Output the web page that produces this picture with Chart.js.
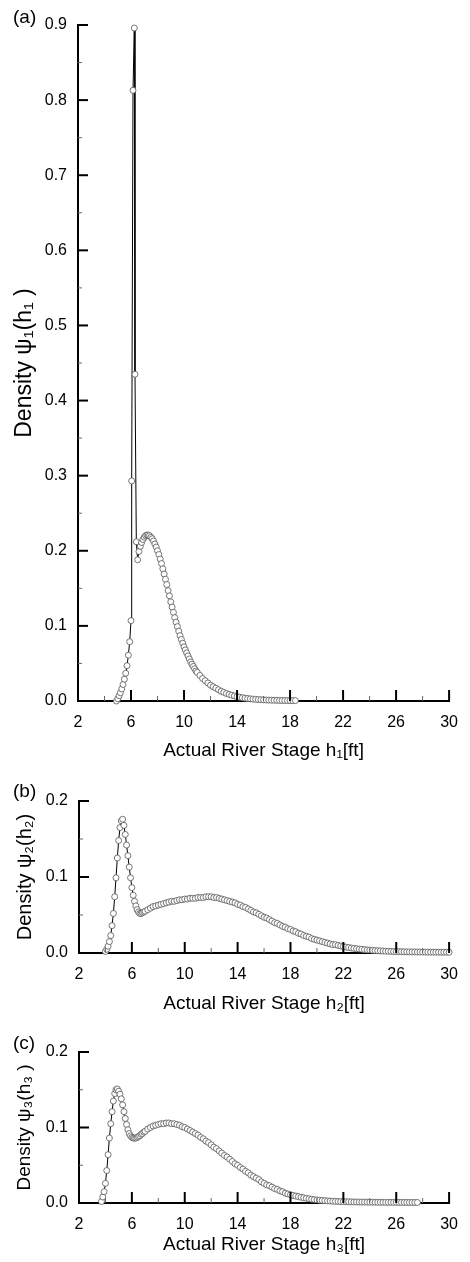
<!DOCTYPE html>
<html>
<head>
<meta charset="utf-8">
<script src="https://cdn.jsdelivr.net/npm/chart.js@4.4.1/dist/chart.umd.min.js"></script>
<style>
  body { margin: 0; background: #fff; }
  .panel { position: absolute; left: 0; width: 470px; }
</style>
</head>
<body>
<div class="panel" style="top:0;height:775px"><canvas id="chartA"></canvas></div>
<div class="panel" style="top:780px;height:240px"><canvas id="chartB"></canvas></div>
<div class="panel" style="top:1030px;height:232px"><canvas id="chartC"></canvas></div>
<script>
// tick values
const stageTicks = [2, 6, 10, 14, 18, 22, 26, 30]
const densityTicksA = [0, 0.1, 0.2, 0.3, 0.4, 0.5, 0.6, 0.7, 0.8, 0.9]
const densityTicksBC = [0, 0.1, 0.2]

// (a) h1
const stageA = [4.9, 5.0, 5.1, 5.2, 5.3, 5.4, 5.5, 5.6, 5.7, 5.8, 5.9, 6.0, 6.05, 6.15, 6.25, 6.3, 6.4,
  6.5, 6.6, 6.7, 6.8, 6.9, 7.0, 7.1, 7.2, 7.3, 7.4, 7.5, 7.6, 7.7, 7.8, 7.9, 8.0, 8.1, 8.2, 8.3, 8.4,
  8.5, 8.6, 8.7, 8.8, 8.9, 9.0, 9.1, 9.2, 9.3, 9.4, 9.5, 9.6, 9.7, 9.8, 9.9, 10.0, 10.1, 10.2, 10.3,
  10.4, 10.5, 10.6, 10.7, 10.8, 10.9, 11.0, 11.2, 11.4, 11.6, 11.8, 12.0, 12.2, 12.4, 12.6, 12.8, 13.0,
  13.2, 13.4, 13.6, 13.8, 14.0, 14.2, 14.4, 14.6, 14.8, 15.0, 15.2, 15.4, 15.6, 15.8, 16.0, 16.2, 16.4,
  16.6, 16.8, 17.0, 17.2, 17.4, 17.6, 17.8, 18.0, 18.2, 18.4]
const densityA = [0, 0.003, 0.007, 0.011, 0.016, 0.022, 0.029, 0.037, 0.047, 0.061, 0.079, 0.107, 0.293, 0.813, 0.896, 0.435, 0.212,
  0.188, 0.199, 0.206, 0.211, 0.215, 0.218, 0.220, 0.221, 0.221, 0.220, 0.218, 0.216, 0.213, 0.209, 0.205, 0.200, 0.195, 0.189, 0.183, 0.176,
  0.169, 0.162, 0.155, 0.147, 0.140, 0.132, 0.125, 0.118, 0.111, 0.105, 0.099, 0.093, 0.087, 0.082, 0.077, 0.072, 0.068, 0.064, 0.060,
  0.056, 0.052, 0.049, 0.046, 0.043, 0.040, 0.038, 0.034, 0.030, 0.027, 0.024, 0.021, 0.019, 0.017, 0.015, 0.013, 0.0115,
  0.0100, 0.0088, 0.0077, 0.0067, 0.0058, 0.0050, 0.0044, 0.0038, 0.0033, 0.0029, 0.0025, 0.0022, 0.0019, 0.0017, 0.0015, 0.0013, 0.0012,
  0.0011, 0.0010, 0.0009, 0.0008, 0.0007, 0.0007, 0.0006, 0.0006, 0.0005, 0.0005]

// (b) h2
const stageB = [4.0, 4.1, 4.2, 4.3, 4.4, 4.5, 4.6, 4.7, 4.8, 4.9, 5.0, 5.1, 5.2, 5.3, 5.4, 5.5, 5.6, 5.7, 5.8, 5.9,
  6.0, 6.1, 6.2, 6.3, 6.4, 6.5, 6.6, 6.7, 6.8, 6.9, 7.0, 7.2, 7.4, 7.6, 7.8, 8.0, 8.2, 8.4, 8.6, 8.8,
  9.0, 9.2, 9.4, 9.6, 9.8, 10.0, 10.2, 10.4, 10.6, 10.8, 11.0, 11.2, 11.4, 11.6, 11.8, 12.0, 12.2, 12.4, 12.6, 12.8,
  13.0, 13.2, 13.4, 13.6, 13.8, 14.0, 14.2, 14.4, 14.6, 14.8, 15.0, 15.2, 15.4, 15.6, 15.8, 16.0, 16.2, 16.4, 16.6, 16.8,
  17.0, 17.2, 17.4, 17.6, 17.8, 18.0, 18.2, 18.4, 18.6, 18.8, 19.0, 19.2, 19.4, 19.6, 19.8, 20.0, 20.2, 20.4, 20.6, 20.8,
  21.0, 21.2, 21.4, 21.6, 21.8, 22.0, 22.2, 22.4, 22.6, 22.8, 23.0, 23.2, 23.4, 23.6, 23.8, 24.0, 24.2, 24.4, 24.6, 24.8,
  25.0, 25.2, 25.4, 25.6, 25.8, 26.0, 26.2, 26.4, 26.6, 26.8, 27.0, 27.2, 27.4, 27.6, 27.8, 28.0, 28.2, 28.4, 28.6, 28.8,
  29.0, 29.2, 29.4, 29.6, 29.8, 30.0]
const densityB = [0.002, 0.005, 0.009, 0.015, 0.023, 0.036, 0.052, 0.074, 0.099, 0.125, 0.148, 0.165, 0.174, 0.176, 0.168, 0.156, 0.142, 0.128, 0.113, 0.099,
  0.086, 0.076, 0.068, 0.062, 0.057, 0.054, 0.052, 0.052, 0.053, 0.054, 0.055, 0.057, 0.059, 0.061, 0.062, 0.063, 0.064, 0.065, 0.066, 0.067,
  0.068, 0.068, 0.069, 0.070, 0.070, 0.071, 0.071, 0.072, 0.072, 0.072, 0.073, 0.073, 0.073, 0.074, 0.074, 0.074, 0.073, 0.073, 0.072, 0.071,
  0.070, 0.069, 0.068, 0.067, 0.066, 0.064, 0.063, 0.061, 0.060, 0.058, 0.056, 0.054, 0.053, 0.051, 0.049, 0.047, 0.046, 0.044, 0.042, 0.040,
  0.039, 0.037, 0.035, 0.034, 0.032, 0.031, 0.029, 0.028, 0.026, 0.025, 0.023, 0.022, 0.021, 0.019, 0.018, 0.017, 0.016, 0.015, 0.014, 0.013,
  0.012, 0.011, 0.011, 0.010, 0.0092, 0.0085, 0.0078, 0.0072, 0.0066, 0.0061, 0.0056, 0.0052, 0.0048, 0.0044, 0.0041, 0.0038, 0.0035, 0.0032, 0.0030, 0.0028,
  0.0026, 0.0024, 0.0023, 0.0021, 0.0020, 0.0019, 0.0018, 0.0017, 0.0016, 0.0015, 0.0015, 0.0014, 0.0014, 0.0013, 0.0013, 0.0012, 0.0012, 0.0012, 0.0011, 0.0011,
  0.0011, 0.0011, 0.0010, 0.0010, 0.0010, 0.0010]

// (c) h3
const stageC = [3.7, 3.8, 3.9, 4.0, 4.1, 4.2, 4.3, 4.4, 4.5, 4.6, 4.7, 4.8, 4.9, 5.0, 5.1, 5.2, 5.3, 5.4, 5.5, 5.6,
  5.7, 5.8, 5.9, 6.0, 6.1, 6.2, 6.3, 6.4, 6.5, 6.6, 6.7, 6.8, 6.9, 7.0, 7.2, 7.4, 7.6, 7.8, 8.0, 8.2,
  8.4, 8.6, 8.8, 9.0, 9.2, 9.4, 9.6, 9.8, 10.0, 10.2, 10.4, 10.6, 10.8, 11.0, 11.2, 11.4, 11.6, 11.8, 12.0, 12.2,
  12.4, 12.6, 12.8, 13.0, 13.2, 13.4, 13.6, 13.8, 14.0, 14.2, 14.4, 14.6, 14.8, 15.0, 15.2, 15.4, 15.6, 15.8, 16.0, 16.2,
  16.4, 16.6, 16.8, 17.0, 17.2, 17.4, 17.6, 17.8, 18.0, 18.2, 18.4, 18.6, 18.8, 19.0, 19.2, 19.4, 19.6, 19.8, 20.0, 20.2,
  20.4, 20.6, 20.8, 21.0, 21.2, 21.4, 21.6, 21.8, 22.0, 22.2, 22.4, 22.6, 22.8, 23.0, 23.2, 23.4, 23.6, 23.8, 24.0, 24.2,
  24.4, 24.6, 24.8, 25.0, 25.2, 25.4, 25.6, 25.8, 26.0, 26.2, 26.4, 26.6, 26.8, 27.0, 27.2, 27.4, 27.6]
const densityC = [0.002, 0.008, 0.015, 0.026, 0.043, 0.064, 0.086, 0.105, 0.121, 0.135, 0.145, 0.150, 0.151, 0.148, 0.144, 0.138, 0.130, 0.121, 0.112, 0.104,
  0.097, 0.092, 0.089, 0.087, 0.086, 0.086, 0.086, 0.087, 0.088, 0.089, 0.091, 0.092, 0.094, 0.095, 0.098, 0.100, 0.102, 0.103, 0.104, 0.105,
  0.105, 0.106, 0.106, 0.105, 0.105, 0.104, 0.103, 0.101, 0.100, 0.098, 0.096, 0.094, 0.092, 0.090, 0.087, 0.085, 0.082, 0.080, 0.077, 0.074,
  0.072, 0.069, 0.066, 0.063, 0.061, 0.058, 0.055, 0.052, 0.050, 0.047, 0.045, 0.042, 0.040, 0.037, 0.035, 0.033, 0.031, 0.028, 0.026, 0.024,
  0.023, 0.021, 0.019, 0.018, 0.016, 0.015, 0.013, 0.012, 0.011, 0.010, 0.0092, 0.0084, 0.0076, 0.0069, 0.0062, 0.0056, 0.0050, 0.0045, 0.0041, 0.0037,
  0.0034, 0.0031, 0.0028, 0.0026, 0.0024, 0.0022, 0.0020, 0.0019, 0.0018, 0.0017, 0.0016, 0.0015, 0.0014, 0.0013, 0.0013, 0.0012, 0.0012, 0.0011, 0.0011, 0.0011,
  0.0010, 0.0010, 0.0010, 0.0009, 0.0009, 0.0009, 0.0009, 0.0008, 0.0008, 0.0008, 0.0008, 0.0008, 0.0007, 0.0007, 0.0007, 0.0007, 0.0007]

const font = 'Liberation Sans, Arial, sans-serif'

// ticks drawn inside the plot, long ones on labels and short ones between
const innerTicks = {
    id: 'innerTicks',
    afterDraw(chart) {
        const ctx = chart.ctx
        const a = chart.chartArea
        const xs = chart.scales.x
        const ys = chart.scales.y
        const xv = xs.ticks.map(t => t.value)
        const yv = ys.ticks.map(t => t.value)
        ctx.save()
        ctx.lineCap = 'butt'
        for (let i = 0; i < xv.length; i++) {
            const px = xs.getPixelForValue(xv[i])
            ctx.strokeStyle = '#000'
            ctx.lineWidth = 2
            ctx.beginPath(); ctx.moveTo(px, a.bottom); ctx.lineTo(px, a.bottom - 11); ctx.stroke()
            if (i < xv.length - 1) {
                const pm = xs.getPixelForValue((xv[i] + xv[i + 1]) / 2)
                ctx.strokeStyle = '#666'
                ctx.lineWidth = 1
                ctx.beginPath(); ctx.moveTo(pm, a.bottom); ctx.lineTo(pm, a.bottom - 5); ctx.stroke()
            }
        }
        for (let i = 0; i < yv.length; i++) {
            const py = ys.getPixelForValue(yv[i])
            ctx.strokeStyle = '#000'
            ctx.lineWidth = 2
            ctx.beginPath(); ctx.moveTo(a.left, py); ctx.lineTo(a.left + 10, py); ctx.stroke()
            if (i < yv.length - 1) {
                const pm = ys.getPixelForValue((yv[i] + yv[i + 1]) / 2)
                ctx.strokeStyle = '#666'
                ctx.lineWidth = 1
                ctx.beginPath(); ctx.moveTo(a.left, pm); ctx.lineTo(a.left + 4, pm); ctx.stroke()
            }
        }
        ctx.restore()
    }
}

// "(a)" style panel letter
const panelTag = {
    id: 'panelTag',
    afterDraw(chart, args, opts) {
        const ctx = chart.ctx
        ctx.save()
        ctx.fillStyle = '#000'
        ctx.font = '19px ' + font
        ctx.textBaseline = 'middle'
        ctx.fillText(opts.text, opts.x, opts.y)
        ctx.restore()
    }
}

function makePanel(id, stage, density, p) {
    const points = stage.map((s, i) => ({ x: s, y: density[i] }))
    const ctx = document.getElementById(id).getContext('2d')
    return new Chart(ctx, {
        type: 'line',
        data: {
            datasets: [{
                data: points,
                borderColor: '#000',
                borderWidth: 1,
                pointRadius: 3,
                pointBorderWidth: 0.8,
                pointBorderColor: '#555',
                pointBackgroundColor: '#fff',
                tension: 0,
                clip: false
            }]
        },
        options: {
            responsive: true,
            maintainAspectRatio: false,
            animation: false,
            events: [],
            layout: { padding: { left: 0, right: 470 - p.right, top: p.top, bottom: 0 } },
            plugins: {
                legend: { display: false },
                tooltip: { enabled: false },
                panelTag: { text: p.tag, x: 13, y: p.tagY }
            },
            scales: {
                x: {
                    type: 'linear',
                    min: 2,
                    max: 30,
                    afterBuildTicks: s => { s.ticks = stageTicks.map(v => ({ value: v })) },
                    afterFit: s => { s.height = p.xHeight },
                    grid: { drawOnChartArea: false, drawTicks: false },
                    border: { display: true, color: '#000', width: 2 },
                    ticks: { color: '#000', font: { family: font, size: 16 }, padding: 12, maxRotation: 0 },
                    title: {
                        display: true,
                        text: p.xTitle,
                        color: '#000',
                        font: { family: font, size: 19 },
                        padding: { top: 0, bottom: p.xTitlePad }
                    }
                },
                y: {
                    type: 'linear',
                    min: 0,
                    max: p.yMax,
                    afterBuildTicks: s => { s.ticks = p.yTicks.map(v => ({ value: v })) },
                    afterFit: s => { s.width = p.left },
                    grid: { drawOnChartArea: false, drawTicks: false },
                    border: { display: true, color: '#000', width: 2 },
                    ticks: { color: '#000', font: { family: font, size: 16 }, padding: 11, callback: v => v.toFixed(1) },
                    title: {
                        display: true,
                        text: p.yTitle,
                        color: '#000',
                        font: { family: font, size: p.yTitleSize },
                        padding: { top: 25 - p.yTitleSize * 0.6, bottom: 0 }
                    }
                }
            }
        },
        plugins: [innerTicks, panelTag]
    })
}

makePanel('chartA', stageA, densityA, {
    tag: '(a)', tagY: 18, left: 78, right: 458, top: 25, xHeight: 74, xTitlePad: 13,
    yMax: 0.9, yTicks: densityTicksA, yTitleSize: 23,
    xTitle: 'Actual River Stage h\u2081[ft]', yTitle: 'Density \u03c8\u2081(h\u2081 )'
})
makePanel('chartB', stageB, densityB, {
    tag: '(b)', tagY: 12, left: 79, right: 459, top: 21, xHeight: 67, xTitlePad: 5,
    yMax: 0.2, yTicks: densityTicksBC, yTitleSize: 20,
    xTitle: 'Actual River Stage h\u2082[ft]', yTitle: 'Density \u03c8\u2082(h\u2082)'
})
makePanel('chartC', stageC, densityC, {
    tag: '(c)', tagY: 14, left: 79, right: 459, top: 22, xHeight: 59, xTitlePad: 6,
    yMax: 0.2, yTicks: densityTicksBC, yTitleSize: 19,
    xTitle: 'Actual River Stage h\u2083[ft]', yTitle: 'Density \u03c8\u2083(h\u2083 )'
})
</script>
</body>
</html>
